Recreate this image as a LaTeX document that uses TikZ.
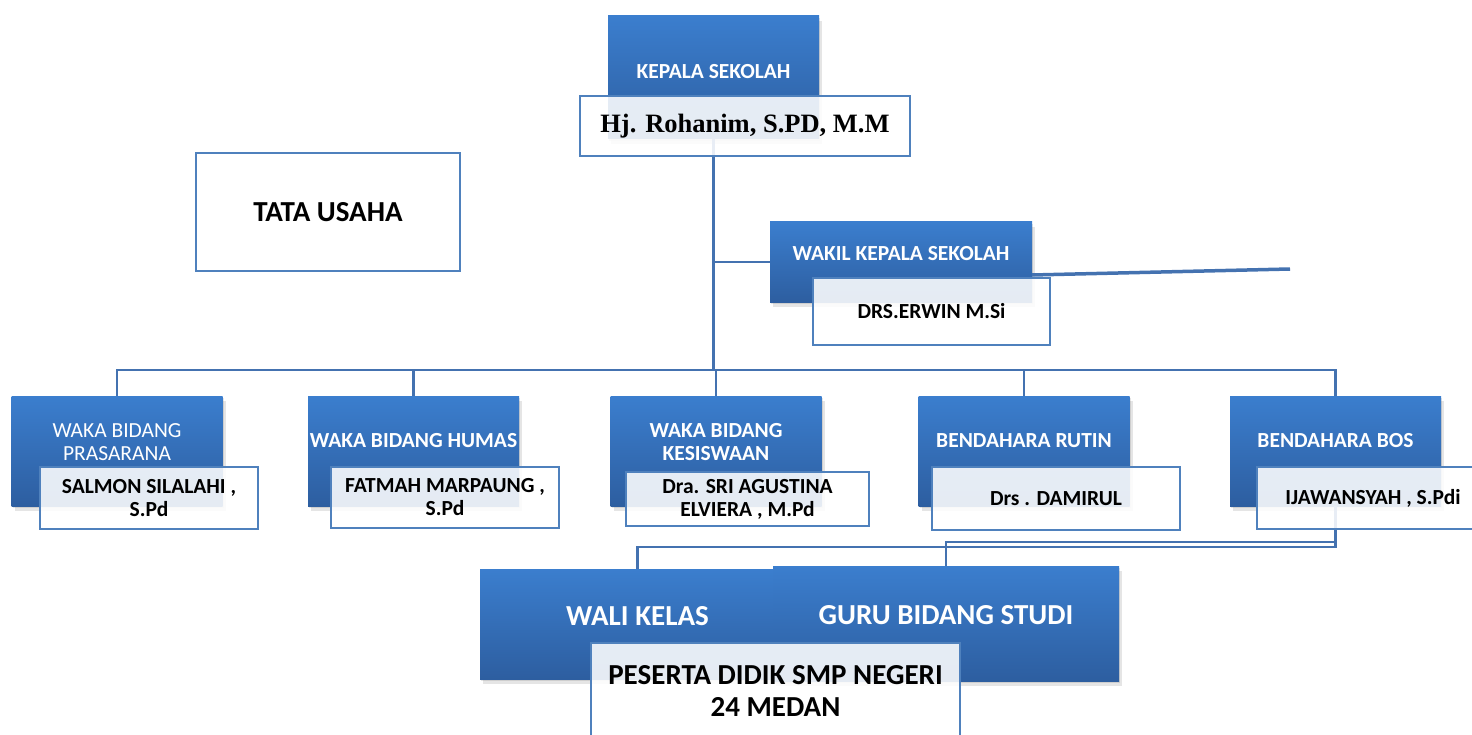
\documentclass[tikz,border=0pt]{standalone}
\usepackage{fontspec}
\setmainfont{Carlito}
\newfontfamily\namefont{Liberation Serif}
\usetikzlibrary{shadows}

\definecolor{boxtop}{RGB}{59,126,206}
\definecolor{boxbot}{RGB}{45,94,160}
\definecolor{rimblue}{RGB}{79,129,189}
\definecolor{linkblue}{RGB}{68,114,176}

\tikzset{
  bluebox/.style={rectangle, shading=axis, top color=boxtop, bottom color=boxbot,
    general shadow={shadow xshift=1pt, shadow yshift=-2pt, fill=black, opacity=0.10},
    drop shadow={shadow xshift=3pt, shadow yshift=-5pt, fill=black, opacity=0.10}},
  namebox/.style={rectangle, draw=rimblue, line width=1.8pt, fill=white, fill opacity=0.88,
    text opacity=1, align=center, font=\bfseries\fontsize{21.5}{23}\selectfont},
  bluelabel/.style={text=white, align=center, font=\bfseries\fontsize{21.5}{23}\selectfont},
  link/.style={draw=linkblue, line width=2.2pt}
}

\begin{document}
\begin{tikzpicture}[x=1pt,y=-1pt]
  \useasboundingbox (0,0) rectangle (1472,735);

  % blue boxes
  \node[bluebox, minimum width=211, minimum height=123] (kepala) at (713.5,77.5) {};
  \node[bluebox, minimum width=262, minimum height=80] (wakil) at (901,262) {};
  \node[bluebox, minimum width=211, minimum height=110] (prasarana) at (117,451) {};
  \node[bluebox, minimum width=211, minimum height=110] (humas) at (413.5,451) {};
  \node[bluebox, minimum width=211, minimum height=110] (kesiswaan) at (716,451) {};
  \node[bluebox, minimum width=211, minimum height=110] (rutin) at (1024,451) {};
  \node[bluebox, minimum width=211, minimum height=110] (bos) at (1335.5,451) {};

  \coordinate (bus) at (713.5,370);
  \coordinate (tail) at (1290,269);

  % connectors
  \draw[link] (kepala.south) -- (bus);
  \draw[link] (wakil.west) -- (wakil.west -| bus);
  \draw[link, line width=3.5pt] ([yshift=-13pt]wakil.east) -- (tail);
  \draw[link] (prasarana.north) |- (bus) -| (bos.north);
  \foreach \n in {humas,kesiswaan,rutin}
    \draw[link] (\n.north) -- (\n.north |- bus);

  \node[bluebox, minimum width=315, minimum height=110] (wali) at (637.5,624) {};
  \node[bluebox, minimum width=346, minimum height=115] (guru) at (946,623.5) {};
  \draw[link] (bos.south) -- ++(0,36) -| (guru.north);
  \draw[link] (bos.south) -- ++(0,41) -| (wali.north);

  % labels on the blue boxes
  \node[bluelabel] at (713.5,72) {KEPALA SEKOLAH};
  \node[bluelabel] at (901,254) {WAKIL KEPALA SEKOLAH};
  \node[bluelabel, font=\fontsize{21.5}{23}\selectfont] at (117,442.5) {WAKA BIDANG\\PRASARANA};
  \node[bluelabel] at (413.5,441) {WAKA BIDANG HUMAS};
  \node[bluelabel] at (716,442.5) {WAKA BIDANG\\KESISWAAN};
  \node[bluelabel] at (1024,441) {BENDAHARA RUTIN};
  \node[bluelabel] at (1335.5,441) {BENDAHARA BOS};
  \node[bluelabel, font=\bfseries\fontsize{29}{32}\selectfont] at (637.5,616) {WALI KELAS};
  \node[bluelabel, font=\bfseries\fontsize{29}{32}\selectfont] at (946,615) {GURU BIDANG STUDI};

  % white name boxes
  \node[namebox, minimum width=330, minimum height=60, font=\namefont\bfseries\fontsize{26.5}{28}\selectfont]
    (rohanim) at (745,126) {Hj. Rohanim, S.PD, M.M};
  \node[namebox, minimum width=264, minimum height=118, font=\bfseries\fontsize{29}{32}\selectfont]
    (tatausaha) at (328,212) {TATA USAHA};
  \node[namebox, minimum width=237, minimum height=67] (erwin) at (931.5,311.5) {DRS.ERWIN M.Si};
  \node[namebox, minimum width=218, minimum height=62] (salmon) at (149,498) {SALMON SILALAHI ,\\S.Pd};
  \node[namebox, minimum width=228, minimum height=61] (fatmah) at (445,497.5) {FATMAH MARPAUNG ,\\S.Pd};
  \node[namebox, minimum width=243, minimum height=54] (agustina) at (747.5,499) {Dra. SRI AGUSTINA\\ELVIERA , M.Pd};
  \node[namebox, minimum width=248, minimum height=63] (damirul) at (1056,498.5) {Drs . DAMIRUL};
  \node[namebox, minimum width=232, minimum height=62] (ijawansyah) at (1373,498) {IJAWANSYAH , S.Pdi};
  \node[namebox, minimum width=369, minimum height=96, font=\bfseries\fontsize{29}{32}\selectfont]
    (peserta) at (775.5,691) {PESERTA DIDIK SMP NEGERI\\24 MEDAN};
\end{tikzpicture}
\end{document}
